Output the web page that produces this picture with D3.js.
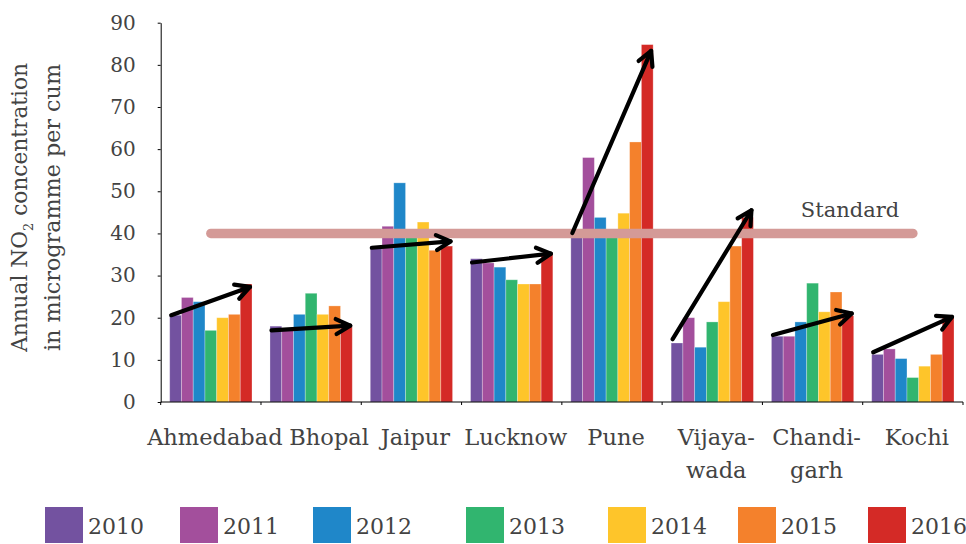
<!DOCTYPE html>
<html>
<head>
<meta charset="utf-8">
<script src="https://cdn.jsdelivr.net/npm/d3@7"></script>
<style>
  html, body { margin: 0; padding: 0; background: #fff; }
  svg { display: block; font-family: "DejaVu Serif", serif; }
</style>
</head>
<body>
<svg id="chart" width="966" height="544"></svg>
<script>
// ---------------- DATA ----------------
const cities = ["Ahmedabad", "Bhopal", "Jaipur", "Lucknow", "Pune", "Vijayawada", "Chandigarh", "Kochi"];
const cityLabels = [["Ahmedabad"], ["Bhopal"], ["Jaipur"], ["Lucknow"], ["Pune"], ["Vijaya-", "wada"], ["Chandi-", "garh"], ["Kochi"]];
const years = ["2010", "2011", "2012", "2013", "2014", "2015", "2016"];
const v2010 = [20.6, 18.0, 37.0, 34.0, 39.6, 14.0, 15.6, 11.3];
const v2011 = [24.8, 17.3, 41.7, 33.0, 58.0, 20.0, 15.6, 12.6];
const v2012 = [23.8, 20.8, 52.0, 32.0, 43.8, 13.0, 19.0, 10.3];
const v2013 = [17.0, 25.8, 39.0, 29.0, 39.5, 19.0, 28.2, 5.8];
const v2014 = [20.0, 20.8, 42.7, 28.0, 44.8, 23.8, 21.4, 8.5];
const v2015 = [20.8, 22.8, 36.0, 28.0, 61.7, 37.0, 26.1, 11.3];
const v2016 = [28.0, 17.8, 37.0, 35.2, 84.8, 43.8, 20.5, 20.0];
const yearColors = ["#7352a0", "#a34f9c", "#1f87c9", "#31b56f", "#fec52a", "#f4812c", "#d42a26"];
const yTicks = [0, 10, 20, 30, 40, 50, 60, 70, 80, 90];
const standardValue = 40;
const standardLabel = "Standard";
// trend arrows (annotation): value at start (2010 bar) and end (2016 bar)
const trendFrom = [20.6, 17.0, 36.6, 33.1, 40.1, 14.9, 15.9, 11.8];
const trendTo   = [27.3, 18.1, 38.1, 35.2, 83.3, 45.5, 21.0, 20.2];

const series = [v2010, v2011, v2012, v2013, v2014, v2015, v2016];

// ---------------- LAYOUT ----------------
const svg = d3.select("#chart");
const textColor = "#434343";
const axisLeftX = 160.7, axisRightX = 963, yBottom = 402, yTop = 22.7;

const x0 = d3.scaleBand().domain(cities).range([axisLeftX, axisRightX]).padding(0);
const x1 = d3.scaleBand().domain(years).range([9, x0.bandwidth() - 9]).padding(0);
const y = d3.scaleLinear().domain([0, 90]).range([yBottom, yTop]);

// bars
const gBars = svg.append("g");
cities.forEach((c, ci) => {
  const g = gBars.append("g").attr("transform", `translate(${x0(c)},0)`);
  g.selectAll("rect")
    .data(years.map((yr, yi) => ({ yr, v: series[yi][ci], color: yearColors[yi] })))
    .join("rect")
    .attr("x", d => x1(d.yr))
    .attr("y", d => y(d.v))
    .attr("width", x1.bandwidth())
    .attr("height", d => y(0) - y(d.v))
    .attr("fill", d => d.color)
    .attr("stroke", "rgba(255,255,255,0.35)")
    .attr("stroke-width", 0.8);
});

// y axis
const yAxis = d3.axisLeft(y).tickValues(yTicks).tickSize(3).tickPadding(22).tickSizeOuter(0);
const gy = svg.append("g").attr("transform", `translate(${axisLeftX},0)`).call(yAxis);
gy.select(".domain").attr("stroke", "#000").attr("stroke-width", 1);
gy.selectAll(".tick line").attr("stroke", "#000");
gy.selectAll(".tick text").attr("fill", textColor).attr("font-size", 20)
  .attr("font-family", "DejaVu Serif");

// x axis
const gx = svg.append("g");
gx.append("line").attr("x1", axisLeftX).attr("x2", axisRightX)
  .attr("y1", yBottom).attr("y2", yBottom).attr("stroke", "#000");
const bounds = cities.map(c => x0(c)).concat([x0(cities[cities.length - 1]) + x0.bandwidth()]);
gx.selectAll("line.tk").data(bounds).join("line").attr("class", "tk")
  .attr("x1", d => d).attr("x2", d => d).attr("y1", yBottom).attr("y2", yBottom + 3)
  .attr("stroke", "#000");
const labelNudge = { "Bhopal": 14 };
cities.forEach((c, ci) => {
  const cx = x0(c) + x0.bandwidth() / 2 + 4 + (labelNudge[c] || 0);
  const t = gx.append("text")
    .attr("x", cx)
    .attr("y", 445)
    .attr("text-anchor", "middle")
    .attr("fill", textColor)
    .attr("font-size", 22.5);
  cityLabels[ci].forEach((line, li) => {
    t.append("tspan").attr("x", cx).attr("dy", li === 0 ? 0 : 33).text(line);
  });
});

// y axis title
const yt = svg.append("g").attr("transform", "translate(27,207.5) rotate(-90)");
const t1 = yt.append("text").attr("text-anchor", "middle").attr("fill", textColor).attr("font-size", 22)
  .attr("textLength", 289).attr("lengthAdjust", "spacingAndGlyphs");
t1.append("tspan").text("Annual NO");
t1.append("tspan").attr("font-size", 13).attr("dy", 6).text("2");
t1.append("tspan").attr("dy", -6).text(" concentration");
yt.append("text").attr("text-anchor", "middle").attr("fill", textColor).attr("font-size", 22)
  .attr("y", 33).attr("textLength", 287).attr("lengthAdjust", "spacingAndGlyphs")
  .text("in microgramme per cum");

// standard line
const sx1 = x0(cities[0]) + x0.bandwidth() / 2;
const sx2 = x0(cities[cities.length - 1]) + x0.bandwidth() / 2;
svg.append("line").attr("x1", sx1).attr("x2", sx2)
  .attr("y1", y(standardValue)).attr("y2", y(standardValue))
  .attr("stroke", "#d49a97").attr("stroke-width", 9.5).attr("stroke-linecap", "round");
svg.append("text").attr("x", 850).attr("y", y(standardValue) - 16)
  .attr("text-anchor", "middle").attr("fill", textColor).attr("font-size", 21).text(standardLabel);

// trend arrows
const gA = svg.append("g").attr("stroke", "#000").attr("stroke-width", 4.2)
  .attr("fill", "none").attr("stroke-linecap", "round").attr("stroke-linejoin", "round");
cities.forEach((c, ci) => {
  const xs = x0(c) + x1(years[0]) + 1.5;
  const xe = x0(c) + x1(years[years.length - 1]) + x1.bandwidth() - 2;
  const ys = y(trendFrom[ci]), ye = y(trendTo[ci]);
  const ang = Math.atan2(ye - ys, xe - xs);
  const L = 16, a = 28 * Math.PI / 180;
  gA.append("line").attr("x1", xs).attr("y1", ys).attr("x2", xe).attr("y2", ye);
  const p1 = [xe - L * Math.cos(ang - a), ye - L * Math.sin(ang - a)];
  const p2 = [xe - L * Math.cos(ang + a), ye - L * Math.sin(ang + a)];
  gA.append("path").attr("d", `M${p1[0]},${p1[1]}L${xe},${ye}L${p2[0]},${p2[1]}`);
});

// legend
const legendX = [45, 180, 313, 466, 608, 738, 868];
const gL = svg.append("g");
years.forEach((yr, i) => {
  gL.append("rect").attr("x", legendX[i]).attr("y", 507).attr("width", 38).attr("height", 36)
    .attr("fill", yearColors[i]);
  gL.append("text").attr("x", legendX[i] + 43).attr("y", 534).attr("fill", textColor)
    .attr("font-size", 22).text(yr);
});
</script>
</body>
</html>
